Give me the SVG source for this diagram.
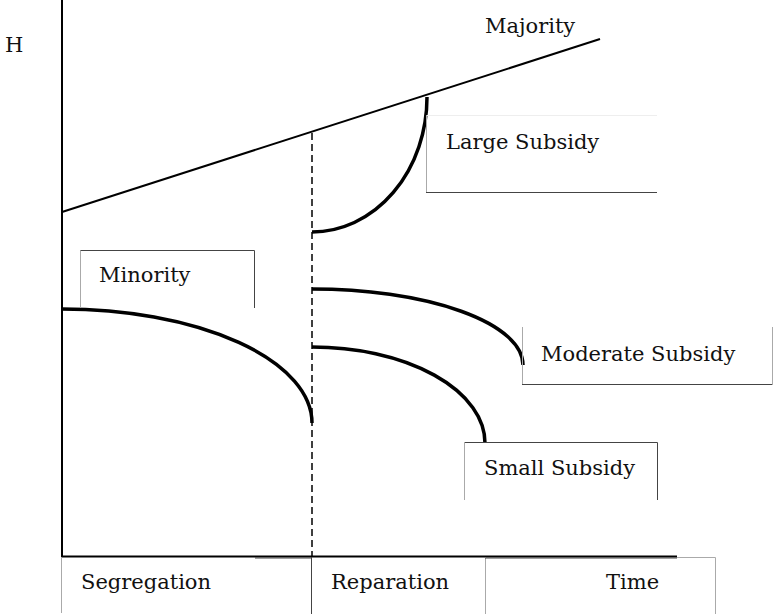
<svg xmlns="http://www.w3.org/2000/svg" width="774" height="615" viewBox="0 0 774 615">
<style>
text{font-family:"DejaVu Serif","Liberation Serif",serif;font-size:21px;fill:#111}
.axis{stroke:#000;stroke-width:2;fill:none}
.curve{stroke:#000;stroke-width:3.5;fill:none}
.dash{stroke:#000;stroke-width:1.5;stroke-dasharray:7 4;fill:none}
.bl{stroke:#aaa;stroke-width:1;fill:none}
.bd{stroke:#444;stroke-width:1;fill:none}
.bf{stroke:#eee;stroke-width:1;fill:none}
</style>
<rect width="774" height="615" fill="#fff"/>
<g id="axes">
<line class="axis" x1="62" y1="0" x2="62" y2="557"/>
<line class="axis" x1="61" y1="556.5" x2="677" y2="556.5"/>
<text x="5" y="52">H</text>
</g>
<g id="connectors">
<line class="axis" x1="62" y1="212" x2="600" y2="39"/>
<line class="dash" x1="312" y1="133" x2="312" y2="556"/>
<path class="curve" d="M312,232 A115,135 0 0 0 427,97"/>
<path class="curve" d="M62,309 A250,114 0 0 1 312,423"/>
<path class="curve" d="M312,289 A211,76 0 0 1 523,365"/>
<path class="curve" d="M312,347 A173,96 0 0 1 485,443"/>
</g>
<g id="majority">
<text x="485" y="33">Majority</text>
</g>
<g id="large-subsidy">
<path class="bf" d="M427,115.5 H657"/>
<path class="bl" d="M426.5,115 V193"/>
<path class="bd" d="M426,192.5 H657"/>
<text x="446" y="149">Large Subsidy</text>
</g>
<g id="minority">
<path class="bd" d="M80.5,308 V250.5 H254.5 V308"/>
<path class="bl" d="M80.5,250.5 V308"/>
<text x="99" y="282">Minority</text>
</g>
<g id="moderate-subsidy">
<path class="bl" d="M522.5,327 V385"/>
<path class="bd" d="M522,384.5 H773"/>
<path class="bl" d="M772.5,327 V385"/>
<text x="541" y="361">Moderate Subsidy</text>
</g>
<g id="small-subsidy">
<path class="bd" d="M464,442.5 H657.5 V500"/>
<path class="bl" d="M464.5,442 V500"/>
<text x="484" y="475">Small Subsidy</text>
</g>
<g id="segregation">
<path class="bl" d="M61.5,557 V613"/>
<path class="bd" d="M255,558 H312"/>
<text x="81" y="589">Segregation</text>
</g>
<g id="reparation">
<path class="bd" d="M311.5,557 V614"/>
<text x="331" y="589">Reparation</text>
</g>
<g id="time">
<path class="bl" d="M485.5,557 V614"/>
<path class="bd" d="M485,558 H677"/>
<path class="bl" d="M677,557.5 H715.5 V614"/>
<text x="606" y="589">Time</text>
</g>
</svg>
